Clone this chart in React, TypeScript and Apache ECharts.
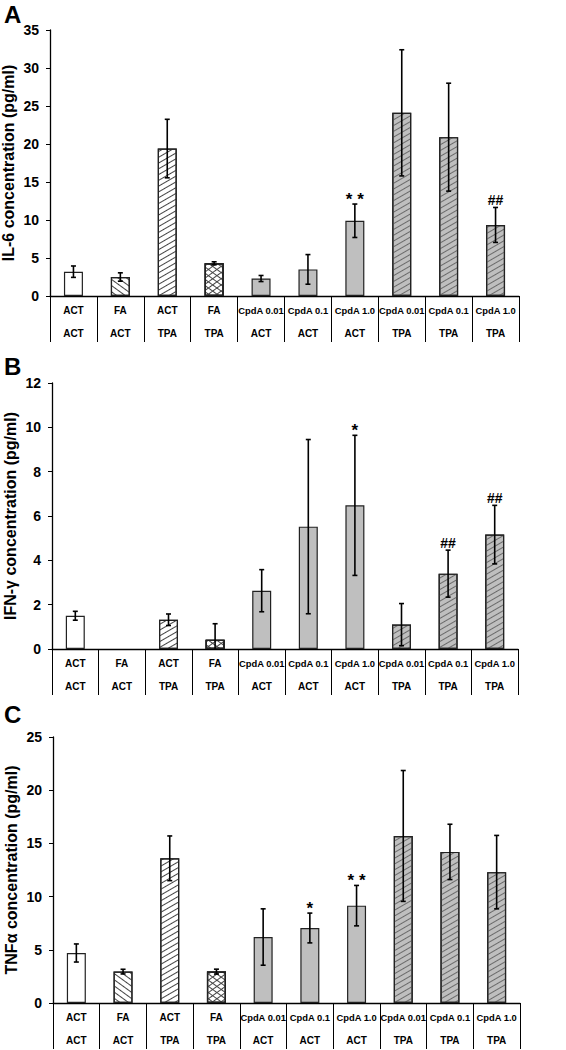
import React, { useEffect, useRef } from "react";
import * as echarts from "echarts";

const rowTop = ["ACT", "FA", "ACT", "FA", "CpdA 0.01", "CpdA 0.1", "CpdA 1.0", "CpdA 0.01", "CpdA 0.1", "CpdA 1.0"];
const rowBottom = ["ACT", "ACT", "TPA", "TPA", "ACT", "ACT", "ACT", "TPA", "TPA", "TPA"];
const barStyles = ["plain", "back", "fwd", "cross", "gray", "gray", "gray", "grayfwd", "grayfwd", "grayfwd"];

const il6Mean = [3.2, 2.5, 19.4, 4.3, 2.3, 3.5, 9.9, 24.1, 20.9, 9.35];
const il6Err = [0.75, 0.55, 3.85, 0.2, 0.4, 1.95, 2.2, 8.3, 7.1, 2.3];
const il6Marks = ["", "", "", "", "", "", "* *", "", "", "##"];

const ifnMean = [1.5, 0, 1.32, 0.42, 2.63, 5.52, 6.48, 1.1, 3.4, 5.16];
const ifnErr = [0.2, 0, 0.26, 0.72, 0.95, 3.93, 3.16, 0.95, 1.06, 1.32];
const ifnMarks = ["", "", "", "", "", "", "*", "", "##", "##"];

const tnfMean = [4.7, 2.95, 13.6, 2.95, 6.2, 7.05, 9.15, 15.7, 14.2, 12.3];
const tnfErr = [0.85, 0.22, 2.1, 0.23, 2.65, 1.4, 1.9, 6.15, 2.6, 3.45];
const tnfMarks = ["", "", "", "", "", "*", "* *", "", "", ""];

const panels = [
  { letter: "A", title: "IL-6 concentration (pg/ml)", max: 35, interval: 5, mean: il6Mean, err: il6Err, marks: il6Marks, left: 50, right: 47, top: 30 },
  { letter: "B", title: "IFN-γ concentration (pg/ml)", max: 12, interval: 2, mean: ifnMean, err: ifnErr, marks: ifnMarks, left: 52, right: 48, top: 383 },
  { letter: "C", title: "TNFα concentration (pg/ml)", max: 25, interval: 5, mean: tnfMean, err: tnfErr, marks: tnfMarks, left: 53, right: 46, top: 737 },
];
const letterTops = [2, 354, 702];

const FONT = "'Liberation Sans', Arial, sans-serif";
const GRAY = "#bfbfbf";

function decalFor(kind: string, alt = false): any {
  if (kind === "fwd") return { symbol: "rect", symbolSize: 1, dashArrayX: [1, 0], dashArrayY: [1, 4], rotation: -Math.PI / 6, color: "#444" };
  if (kind === "back") return { symbol: "rect", symbolSize: 1, dashArrayX: [1, 0], dashArrayY: [1, 4], rotation: Math.PI / 5, color: "#444" };
  if (kind === "cross") return { symbol: "rect", symbolSize: 1, dashArrayX: [1, 0], dashArrayY: [1, 4], rotation: alt ? -Math.PI / 5 : Math.PI / 5, color: "#444" };
  if (kind === "grayfwd") return { symbol: "rect", symbolSize: 1, dashArrayX: [1, 0], dashArrayY: [1, 4], rotation: -Math.PI / 6, color: "#6a6a6a" };
  return null;
}

export default function App() {
  const ref = useRef<HTMLDivElement>(null);
  useEffect(() => {
    document.body.style.margin = "0";
    const chart = echarts.init(ref.current!, null, { renderer: "svg" });
    const grid: any[] = [];
    const xAxis: any[] = [];
    const yAxis: any[] = [];
    const series: any[] = [];
    const graphic: any[] = [];
    panels.forEach((p, i) => {
      grid.push({ left: p.left, right: p.right, top: p.top, height: 266, outerBoundsMode: "none", containLabel: false });
      xAxis.push({
        type: "category",
        gridIndex: i,
        data: rowTop.map((t, k) => t + "\n" + rowBottom[k]),
        axisLine: { lineStyle: { color: "#000", width: 1.3 } },
        axisTick: { show: true, length: 46, interval: 0, lineStyle: { color: "#000", width: 1 } },
        axisLabel: {
          interval: 0,
          margin: 3,
          formatter: (v: string) => {
            const [a, b] = v.split("\n");
            return (a.length > 3 ? "{n|" + a + "}" : "{w|" + a + "}") + "\n{w|" + b + "}";
          },
          rich: {
            w: { fontFamily: FONT, fontWeight: "bold", fontSize: 10, lineHeight: 23, color: "#000" },
            n: { fontFamily: FONT, fontWeight: "bold", fontSize: 9.4, lineHeight: 23, color: "#000" },
          },
        },
      });
      yAxis.push({
        type: "value",
        gridIndex: i,
        min: 0,
        max: p.max,
        interval: p.interval,
        name: p.title,
        nameLocation: "middle",
        nameGap: 34,
        nameMoveOverlap: false,
        nameTextStyle: { fontFamily: FONT, fontWeight: "bold", fontSize: 16, color: "#000" },
        axisLine: { show: true, lineStyle: { color: "#000", width: 1.3 } },
        axisTick: { show: true, length: 4, lineStyle: { color: "#000" } },
        axisLabel: { margin: 11, fontFamily: FONT, fontWeight: "bold", fontSize: 14, color: "#000" },
        splitLine: { show: false },
      });
      series.push({
        type: "bar",
        xAxisIndex: i,
        yAxisIndex: i,
        barWidth: 19,
        barGap: "-100%",
        data: p.mean.map((v, k) => {
          const kind = barStyles[k];
          const isGray = kind === "gray" || kind === "grayfwd";
          const d = decalFor(kind);
          return {
            value: v,
            itemStyle: {
              color: isGray ? GRAY : "#fff",
              borderColor: v === 0 ? "transparent" : "#222",
              borderWidth: 1.2,
              ...(d ? { decal: d } : {}),
            },
          };
        }),
        z: 2,
      });
      series.push({
        type: "bar",
        xAxisIndex: i,
        yAxisIndex: i,
        barWidth: 19,
        barGap: "-100%",
        data: p.mean.map((v, k) =>
          barStyles[k] === "cross"
            ? { value: v, itemStyle: { color: "transparent", borderColor: "#222", borderWidth: 1.2, decal: decalFor("cross", true) } }
            : "-"
        ),
        z: 3,
      });
      series.push({
        type: "custom",
        xAxisIndex: i,
        yAxisIndex: i,
        clip: true,
        z: 5,
        data: p.mean.map((v, k) => [k, v - p.err[k], v + p.err[k], v]),
        renderItem: (params: any, api: any) => {
          const k = api.value(0);
          const lo = api.coord([k, Math.max(0, api.value(1))]);
          const hi = api.coord([k, api.value(2)]);
          const children: any[] = [];
          const err = p.err[params.dataIndex];
          const st = { stroke: "#000", lineWidth: 1.6 };
          if (err > 0) {
            children.push({ type: "line", shape: { x1: lo[0], y1: lo[1], x2: hi[0], y2: hi[1] }, style: st });
            children.push({ type: "line", shape: { x1: hi[0] - 2.5, y1: hi[1], x2: hi[0] + 2.5, y2: hi[1] }, style: st });
            if (api.value(1) > 0) children.push({ type: "line", shape: { x1: lo[0] - 2.5, y1: lo[1], x2: lo[0] + 2.5, y2: lo[1] }, style: st });
          }
          const m = p.marks[params.dataIndex];
          if (m) {
            const isStar = m.indexOf("*") >= 0;
            children.push({
              type: "text",
              style: {
                text: m,
                x: hi[0],
                y: hi[1] + (isStar ? 4 : 0),
                align: "center",
                verticalAlign: "bottom",
                font: "bold " + (isStar ? 17 : 14) + "px " + FONT,
                fill: "#000",
              },
            });
          }
          return { type: "group", children };
        },
      });
      graphic.push({
        type: "text",
        left: 4,
        top: letterTops[i],
        style: { text: p.letter, font: "bold 24px " + FONT, fill: "#000" },
      });
    });
    chart.setOption({ animation: false, backgroundColor: "#fff", grid, xAxis, yAxis, series, graphic });
    return () => chart.dispose();
  }, []);
  return <div ref={ref} style={{ position: "absolute", left: 0, top: 0, width: 566, height: 1050 }} />;
}
